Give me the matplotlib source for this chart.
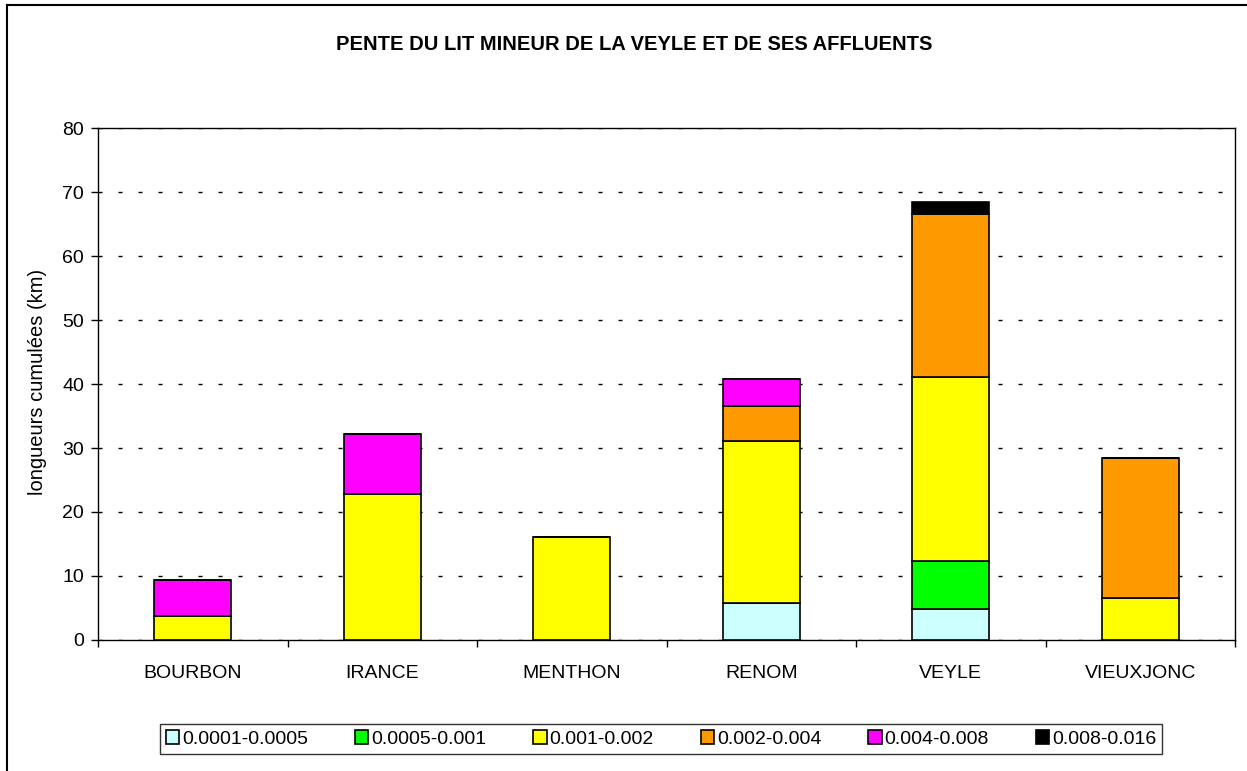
import matplotlib.pyplot as plt
import numpy as np
from matplotlib.lines import Line2D

plt.rcParams['font.family'] = ['Liberation Sans', 'DejaVu Sans']

rivers = ["BOURBON", "IRANCE", "MENTHON", "RENOM", "VEYLE", "VIEUXJONC"]
classes = ["0.0001-0.0005", "0.0005-0.001", "0.001-0.002",
           "0.002-0.004", "0.004-0.008", "0.008-0.016"]
colors = ["#ccffff", "#00ff00", "#ffff00", "#ff9900", "#ff00ff", "#000000"]

# longueurs (km) par classe de pente, une liste par classe
s1 = [0, 0, 0, 5.8, 4.9, 0]
s2 = [0, 0, 0, 0, 7.5, 0]
s3 = [3.7, 22.8, 16.1, 25.35, 28.7, 6.55]
s4 = [0, 0, 0, 5.45, 25.5, 21.95]
s5 = [5.65, 9.4, 0, 4.2, 0, 0]
s6 = [0, 0, 0, 0, 1.8, 0]
series = [s1, s2, s3, s4, s5, s6]

fig = plt.figure(figsize=(12.47, 7.71), dpi=100)
ax = fig.add_axes([98 / 1247, 131 / 771, 1137 / 1247, 512 / 771])

x = np.arange(len(rivers))
bottom = np.zeros(len(rivers))
for vals, col, lab in zip(series, colors, classes):
    vals = np.array(vals)
    ax.bar(x, vals, width=0.405, bottom=bottom, color=col,
           edgecolor="black", linewidth=1.2, label=lab, zorder=3)
    bottom += vals

ax.set_xlim(-0.5, len(rivers) - 0.5)
ax.set_ylim(0, 80)
ax.set_yticks(np.arange(0, 81, 10))
ax.yaxis.grid(True, color="black", linestyle=(0, (2.9, 11.5)), linewidth=1)
ax.set_axisbelow(True)

# ticks at category boundaries, labels at centers
ax.set_xticks(np.arange(-0.5, len(rivers), 1.0))
ax.set_xticklabels([])
ax.set_xticks(x, minor=True)
ax.set_xticklabels(rivers, minor=True)
ax.tick_params(axis="x", which="minor", length=0, pad=18, labelsize=14)
ax.tick_params(axis="x", which="major", direction="out", length=5, width=1)
ax.tick_params(axis="y", direction="out", length=5, width=1, labelsize=14, pad=5)

for sp in ax.spines.values():
    sp.set_color("black")
    sp.set_linewidth(1)

ax.set_ylabel("longueurs cumulées (km)", fontsize=14.5, va="center")
ax.yaxis.set_label_coords((38 - 98) / 1137, (640 - 382) / 512)

fig.text(634 / 1247, 1 - 45 / 771, "PENTE DU LIT MINEUR DE LA VEYLE ET DE SES AFFLUENTS",
         ha="center", va="center", fontsize=14.5, fontweight="bold")

leg = fig.legend(loc="center", bbox_to_anchor=(661 / 1247, 1 - 739 / 771), ncol=6,
                 fontsize=14, frameon=True, fancybox=False, edgecolor="black",
                 handlelength=0.7, handleheight=0.7, handletextpad=0.15,
                 columnspacing=2.4, borderpad=0.3)
leg.get_frame().set_linewidth(1)

# chart area border (left and top)
fig.add_artist(Line2D([7 / 1247, 7 / 1247], [0, 1 - 5 / 771], color="black", linewidth=1.5))
fig.add_artist(Line2D([7 / 1247, 1], [1 - 5 / 771, 1 - 5 / 771], color="black", linewidth=1.5))

fig.savefig("out.png", dpi=100)
